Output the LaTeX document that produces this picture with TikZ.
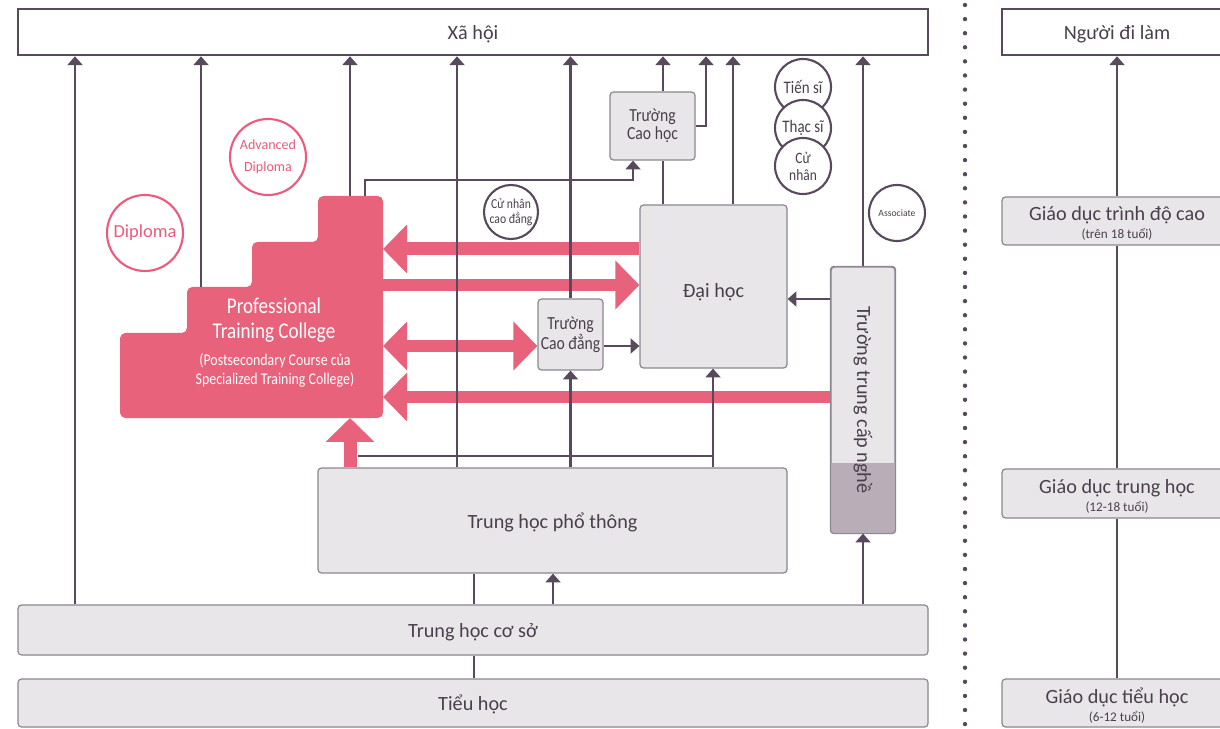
\documentclass[tikz,border=0pt]{standalone}
\usepackage{fontspec}
\setmainfont{Carlito}
\newfontfamily\condfont[FakeStretch=0.85]{Carlito}
\usetikzlibrary{arrows.meta}
\newdimen\upx \upx=0.02cm
\definecolor{dk}{HTML}{58495D}
\definecolor{bxfill}{HTML}{E9E6EA}
\definecolor{bxline}{HTML}{8E8690}
\definecolor{pk}{HTML}{E8627C}
\definecolor{pkc}{HTML}{EC5A7D}
\definecolor{tcdark}{HTML}{B9ADB8}
\definecolor{txt}{HTML}{4A3F4C}
\begin{document}
\begin{tikzpicture}[x=0.02cm,y=-0.02cm,
 box/.style={draw=bxline, fill=bxfill, line width=0.7pt, rounded corners=2pt, inner sep=0pt, text=txt, font=\fontsize{11.5}{13}\selectfont},
 oneline/.style={text height=9.5pt, text depth=0.7pt},
 topbox/.style={draw=dk, fill=white, line width=1.5pt, inner sep=0pt, text=txt, font=\fontsize{11.5}{13}\selectfont, oneline},
 lbl/.style={text=txt, inner sep=0pt, align=center, font=\fontsize{11.5}{13}\selectfont},
 conn/.style={draw=dk, line width=1.6pt},
 arr/.style={conn, -{Triangle[width=8.5pt,length=5pt]}},
 parr/.style={draw=pk, line width=0.26cm, -{Triangle[width=0.95cm,length=0.48cm]}},
 parrd/.style={draw=pk, line width=0.26cm, {Triangle[width=0.95cm,length=0.48cm]}-{Triangle[width=0.95cm,length=0.48cm]}},
 degree/.style={circle, draw=dk, fill=white, line width=1.2pt, minimum size=56\upx, inner sep=0pt, text=txt, align=center},
 pcirc/.style={circle, draw=pkc, fill=white, line width=1.2pt, minimum size=76\upx, inner sep=0pt, text=pkc, align=center},
]
\clip (0,0) rectangle (1220,729);
\fill[white] (0,0) rectangle (1220,729);

% dotted separator
\foreach \i in {0,...,51} \fill[dk] (965,5+14.1*\i) circle[radius=2.2\upx];

% top boxes
\node[topbox, minimum width=910\upx, minimum height=46\upx] (xh) at (473,32) {Xã hội};
\node[topbox, minimum width=230\upx, minimum height=46\upx] (ndl) at (1117,32) {Người đi làm};

% right side
\node[box, minimum width=230\upx, minimum height=48\upx] (gdc) at (1117,221) {};
\node[lbl] (gdct) at ([yshift=-1.5pt]gdc.center) {Giáo dục trình độ cao\\[-3pt]\fontsize{7.5}{8}\selectfont(trên 18 tuổi)};
\node[box, minimum width=230\upx, minimum height=49\upx] (gdtr) at (1117,493.5) {};
\node[lbl] (gdtrt) at ([yshift=-1.5pt]gdtr.center) {Giáo dục trung học\\[-3pt]\fontsize{7.5}{8}\selectfont(12-18 tuổi)};
\node[box, minimum width=230\upx, minimum height=48\upx] (gdth) at (1117,703) {};
\node[lbl] (gdtht) at ([yshift=-1.5pt]gdth.center) {Giáo dục tiểu học\\[-3pt]\fontsize{7.5}{8}\selectfont(6-12 tuổi)};
\draw[conn] (gdth.north) -- (gdtr.south);
\draw[conn] (gdtr.north) -- (gdc.south);
\draw[arr] (gdc.north) -- (ndl.south);

% left boxes
\node[box, oneline, minimum width=910\upx, minimum height=50\upx] (thcs) at (473,630) {Trung học cơ sở};
\node[box, oneline, minimum width=910\upx, minimum height=48\upx] (tieu) at (473,703) {Tiểu học};
\node[box, oneline, minimum width=469\upx, minimum height=105\upx] (thpt) at (552.5,520.5) {Trung học phổ thông};
\node[box, minimum width=147\upx, minimum height=163\upx] (dh) at (713.5,286.5) {};
\node[lbl] (dht) at ([yshift=-3pt]dh.center) {Đại học};
\node[box, minimum width=65\upx, minimum height=71\upx, align=center, font=\condfont\fontsize{10.5}{10}\selectfont] (cd) at (570.5,334.5) {Trường\\Cao đẳng};
\node[box, minimum width=85\upx, minimum height=68\upx, align=center, font=\condfont\fontsize{10.5}{10}\selectfont] (ch) at (652.5,126) {Trường\\Cao học};
\node[box, minimum width=64\upx, minimum height=266\upx] (tc) at (863,400) {};
\begin{scope}
\clip[rounded corners=2pt] (tc.north west) rectangle (tc.south east);
\fill[tcdark] (820,463) rectangle (900,540);
\end{scope}
\draw[bxline, line width=0.7pt, rounded corners=2pt] (tc.north west) rectangle (tc.south east);
\node[rotate=-90, text=txt, font=\fontsize{11.5}{13}\selectfont] (tctext) at (tc.center) {Trường trung cấp nghề};

% Professional Training College
\fill[pk, rounded corners=3pt] (120,418) -- (120,333) -- (187,333) -- (187,287) -- (252,287) -- (252,242) -- (318,242) -- (318,196) -- (383,196) -- (383,418) -- cycle;
\coordinate (s2) at (201,287);
\coordinate (s4a) at (350,196);
\coordinate (s4b) at (365,196);
\coordinate (ptcE) at (383,418);
\node[text=white, align=center, inner sep=0pt, font=\condfont\fontsize{12.8}{14}\selectfont] (ptc) at (274,320) {Professional\\Training College};
\node[text=white, align=center, inner sep=0pt, font=\condfont\fontsize{9.3}{10.8}\selectfont] (ptcsub) at (275,370) {(Postsecondary Course của\\Specialized Training College)};

% pink arrows
\draw[parr] (dh.west |- 0,249) -- (ptcE |- 0,249);
\draw[parr] (ptcE |- 0,285) -- (dh.west |- 0,285);
\draw[parrd] (ptcE |- 0,346) -- (cd.west |- 0,346);
\draw[parr] (tc.west |- 0,397) -- (ptcE |- 0,397);
\draw[parr] (350,0 |- thpt.north) -- (350,0 |- ptcE);

% dark connectors to Xa hoi
\draw[arr] (75,0 |- thcs.north) -- (75,0 |- xh.south);
\draw[arr] (s2) -- (s2 |- xh.south);
\draw[arr] (s4a) -- (s4a |- xh.south);
\draw[arr] (457,0 |- thpt.north) -- (457,0 |- xh.south);
\draw[arr] (cd.north) -- (cd.north |- xh.south);
\draw[conn] (663,0 |- dh.north) -- (663,0 |- ch.south);
\draw[arr] (663,0 |- ch.north) -- (663,0 |- xh.south);
\draw[arr] (ch.east) -- (706,0 |- ch.east) -- (706,0 |- xh.south);
\draw[arr] (733,0 |- dh.north) -- (733,0 |- xh.south);
\draw[arr] (tc.north) -- (tc.north |- xh.south);
\draw[arr] (s4b) -- (365,180) -- (633,180) -- (633,0 |- ch.south);

% between boxes
\draw[arr] (cd.east |- 0,346) -- (dh.west |- 0,346);
\draw[arr] (tc.west |- 0,299) -- (dh.east |- 0,299);
\draw[arr] (tc.south |- thcs.north) -- (tc.south);
\draw[arr] (713,0 |- thpt.north) -- (713,0 |- dh.south);
\draw[arr] (cd.south |- thpt.north) -- (cd.south);
\draw[conn] (358,456) -- (713,456);
\draw[conn] (474,0 |- tieu.north) -- (474,0 |- thcs.south);
\draw[conn] (474,0 |- thcs.north) -- (474,0 |- thpt.south);
\draw[arr] (553,0 |- thcs.north) -- (553,0 |- thpt.south);

% circles
\node[pcirc, font=\fontsize{10.5}{12}\selectfont] (dip) at (145,233) {Diploma};
\node[pcirc, font=\fontsize{8}{12.5}\selectfont] (adip) at (268,157) {Advanced\\Diploma};
\node[degree, font=\condfont\fontsize{10}{11}\selectfont] (ts) at (803,87) {Tiến sĩ};
\node[degree, font=\condfont\fontsize{10}{11}\selectfont] (thac) at (803,128) {Thạc sĩ};
\node[degree, font=\condfont\fontsize{9}{9.6}\selectfont] (cn) at (803,166) {Cử\\nhân};
\node[degree, minimum size=54\upx, font=\condfont\fontsize{7.8}{8.5}\selectfont] (cncd) at (511,212) {Cử nhân\\cao đẳng};
\node[degree, font=\fontsize{5.5}{6}\selectfont] (asc) at (897,213) {Associate};
\end{tikzpicture}
\end{document}
